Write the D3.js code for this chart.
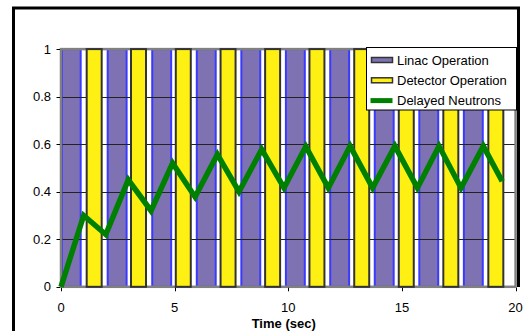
<!DOCTYPE html>
<html>
<head>
<meta charset="utf-8">
<script src="https://cdn.jsdelivr.net/npm/d3@7"></script>
<style>
  body{margin:0;background:#fff;}
  svg text{font-family:Arial,"Liberation Sans",sans-serif;}
</style>
</head>
<body>
<svg id="chart" width="528" height="331"></svg>
<script>

// Linac on-periods (sec)
var linacStart = [0, 2.01, 3.97, 5.93, 7.89, 9.85, 11.80, 13.76, 15.72, 17.68];
var linacEnd   = [0.91, 2.93, 4.89, 6.85, 8.81, 10.77, 12.72, 14.68, 16.64, 18.60];

// Detector on-periods (sec)
var detStart = [1.13, 3.08, 5.05, 7.02, 8.98, 10.93, 12.90, 14.86, 16.82, 18.80];
var detEnd   = [1.79, 3.74, 5.71, 7.68, 9.64, 11.59, 13.56, 15.52, 17.48, 19.46];

// delayed neutron curve
var neutronT = [0, 1.00, 1.97, 2.96, 3.96, 4.91, 5.90, 6.88, 7.83, 8.83, 9.81, 10.77, 11.76, 12.72, 13.71, 14.69, 15.68, 16.63, 17.60, 18.58, 19.41];
var neutronV = [0, 0.30, 0.22, 0.45, 0.32, 0.52, 0.378, 0.557, 0.40, 0.578, 0.416, 0.59, 0.416, 0.592, 0.416, 0.592, 0.416, 0.592, 0.416, 0.592, 0.444];

var xTicks = [0, 5, 10, 15, 20];
var yTicks = [0, 0.2, 0.4, 0.6, 0.8, 1];
var legendNames = ["Linac Operation", "Detector Operation", "Delayed Neutrons"];

var svg = d3.select('#chart');

var x = d3.scaleLinear().domain([0, 20]).range([61, 515.6]);
var y = d3.scaleLinear().domain([0, 1]).range([286.8, 49.1]);

// outer frame (right side stops at the plot bottom, as in the original)
svg.append('path')
   .attr('d', 'M13.5,340V8H518.5V287')
   .attr('fill', 'none')
   .attr('stroke', '#000')
   .attr('stroke-width', 3);

var plot = svg.append('g');

// linac columns
var linac = linacStart.map(function(s, i){ return {s: s, e: linacEnd[i]}; });
plot.selectAll('rect.linac').data(linac).enter()
    .append('rect')
    .attr('class', 'linac')
    .attr('x', function(d){ return x(d.s) + 1; })
    .attr('width', function(d){ return x(d.e) - x(d.s) - 2; })
    .attr('y', y(1))
    .attr('height', y(0) - y(1))
    .attr('fill', '#7f72b2')
    .attr('stroke', '#3a3aff')
    .attr('stroke-width', 2);

// gridlines
plot.selectAll('line.grid').data(yTicks.filter(function(v){ return v > 0 && v < 1; })).enter()
    .append('line')
    .attr('x1', x(0)).attr('x2', x(20))
    .attr('y1', function(d){ return Math.round(y(d)) + 0.5; })
    .attr('y2', function(d){ return Math.round(y(d)) + 0.5; })
    .attr('stroke', '#222')
    .attr('stroke-width', 1);

// plot border
plot.append('rect')
    .attr('x', x(0)).attr('y', y(1))
    .attr('width', x(20) - x(0))
    .attr('height', y(0) - y(1))
    .attr('fill', 'none')
    .attr('stroke', '#808080')
    .attr('stroke-width', 2.5);

// detector columns
var det = detStart.map(function(s, i){ return {s: s, e: detEnd[i]}; });
plot.selectAll('rect.det').data(det).enter()
    .append('rect')
    .attr('class', 'det')
    .attr('x', function(d){ return x(d.s); })
    .attr('width', function(d){ return x(d.e) - x(d.s); })
    .attr('y', y(1))
    .attr('height', y(0) - y(1))
    .attr('fill', '#fff014')
    .attr('stroke', '#333')
    .attr('stroke-width', 2);

// delayed neutrons
var pts = neutronT.map(function(t, i){ return [t, neutronV[i]]; });
var line = d3.line()
    .x(function(d){ return x(d[0]); })
    .y(function(d){ return y(d[1]); });
plot.append('path')
    .datum(pts)
    .attr('d', line)
    .attr('fill', 'none')
    .attr('stroke', '#008000')
    .attr('stroke-width', 5.5)
    .attr('stroke-linejoin', 'miter');

// x axis
var xAxis = svg.append('g');
xAxis.selectAll('line').data(xTicks).enter()
    .append('line')
    .attr('x1', function(d){ return Math.round(x(d)) + 0.5; })
    .attr('x2', function(d){ return Math.round(x(d)) + 0.5; })
    .attr('y1', y(0) + 1).attr('y2', y(0) + 4.5)
    .attr('stroke', '#000');
xAxis.selectAll('text').data(xTicks).enter()
    .append('text')
    .attr('x', function(d){ return x(d); })
    .attr('y', 312)
    .attr('text-anchor', 'middle')
    .attr('font-size', 13)
    .text(function(d){ return d; });
svg.append('text')
    .attr('x', 283.7).attr('y', 327.5)
    .attr('text-anchor', 'middle')
    .attr('font-size', 13)
    .attr('font-weight', 'bold')
    .text('Time (sec)');

// y axis
var yAxis = svg.append('g');
yAxis.selectAll('line').data(yTicks).enter()
    .append('line')
    .attr('x1', x(0) - 4.5).attr('x2', x(0) - 1)
    .attr('y1', function(d){ return Math.round(y(d)) + 0.5; })
    .attr('y2', function(d){ return Math.round(y(d)) + 0.5; })
    .attr('stroke', '#000');
yAxis.selectAll('text').data(yTicks).enter()
    .append('text')
    .attr('x', 51)
    .attr('y', function(d){ return y(d) + 4.5; })
    .attr('text-anchor', 'end')
    .attr('font-size', 13)
    .text(function(d){ return d; });

// legend
var legend = svg.append('g').attr('transform', 'translate(366.5,47.5)');
legend.append('rect')
    .attr('width', 150).attr('height', 62.5)
    .attr('fill', '#fff')
    .attr('stroke', '#000')
    .attr('stroke-width', 1);
var items = legend.selectAll('g').data(legendNames).enter()
    .append('g')
    .attr('transform', function(d, i){ return 'translate(0,' + (12.5 + i * 20.3) + ')'; });
items.each(function(d, i){
    var g = d3.select(this);
    if(i < 2){
        g.append('rect')
         .attr('x', 5).attr('y', -2.5)
         .attr('width', 21).attr('height', 5)
         .attr('fill', i == 0 ? '#7f72b2' : '#fff014')
         .attr('stroke', '#333')
         .attr('stroke-width', 1.5);
    }else{
        g.append('line')
         .attr('x1', 4).attr('x2', 26)
         .attr('stroke', '#008000')
         .attr('stroke-width', 5);
    }
    g.append('text')
     .attr('x', 30.5).attr('y', 4.5)
     .attr('font-size', 13)
     .text(d);
});

</script>
</body>
</html>
